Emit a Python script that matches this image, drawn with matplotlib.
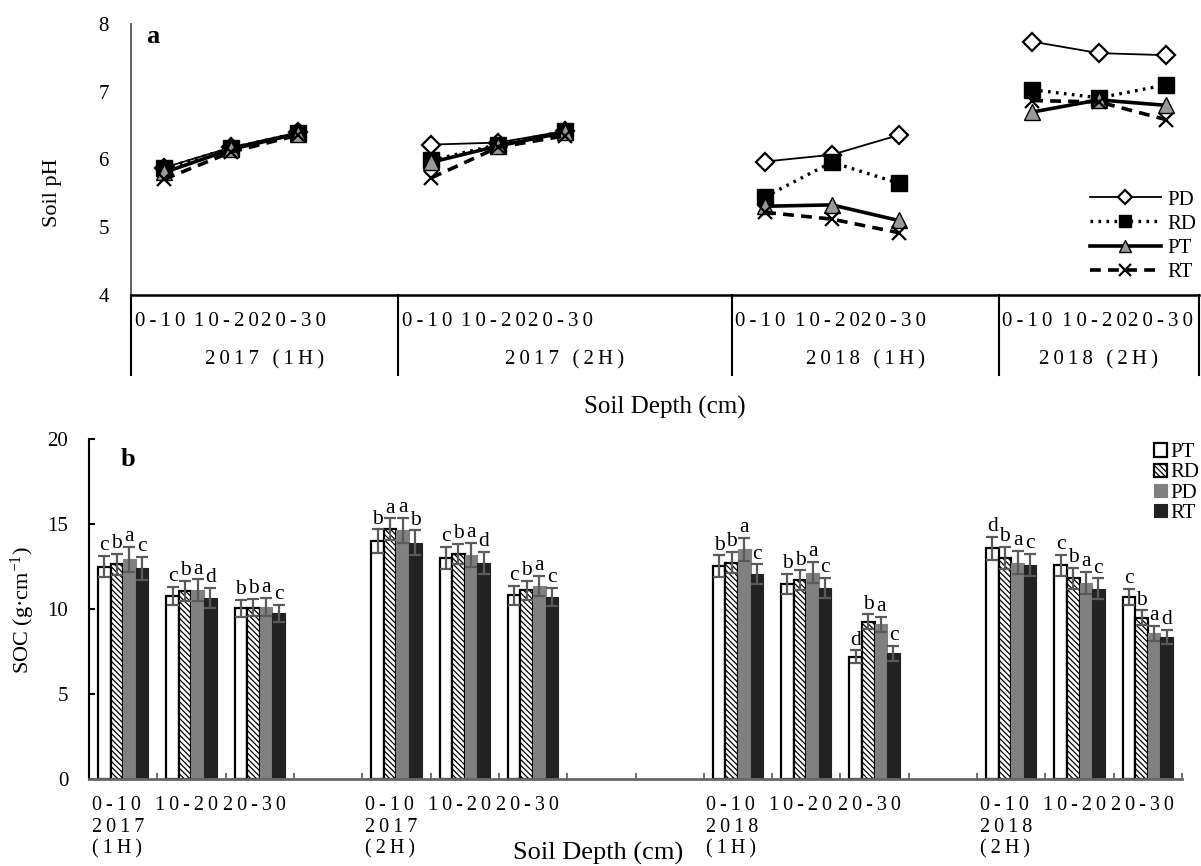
import matplotlib
matplotlib.use('Agg')
import matplotlib.pyplot as plt
import matplotlib.transforms as mtransforms
from matplotlib.lines import Line2D
from matplotlib.patches import Patch
import numpy as np

plt.rcParams['font.family'] = ['Liberation Serif', 'DejaVu Serif']
plt.rcParams['mathtext.fontset'] = 'custom'
plt.rcParams['mathtext.rm'] = 'Liberation Serif'
plt.rcParams['mathtext.it'] = 'Liberation Serif:italic'
plt.rcParams['hatch.linewidth'] = 0.9
plt.rcParams['hatch.color'] = 'black'

# ---------------- data ----------------
depths = ['0-10', '10-20', '20-30']
periods = ['2017 (1H)', '2017 (2H)', '2018 (1H)', '2018 (2H)']
period_year = ['2017', '2017', '2018', '2018']
period_half = ['(1H)', '(2H)', '(1H)', '(2H)']

# soil pH (12 values: period x depth)
ph_PD = [5.88, 6.18, 6.40, 6.22, 6.25, 6.42, 5.97, 6.07, 6.36, 7.74, 7.57, 7.54]
ph_RD = [5.87, 6.17, 6.39, 5.99, 6.22, 6.42, 5.45, 5.96, 5.65, 7.03, 6.91, 7.10]
ph_PT = [5.81, 6.15, 6.38, 5.96, 6.20, 6.40, 5.31, 5.33, 5.10, 6.70, 6.88, 6.80]
ph_RT = [5.71, 6.11, 6.36, 5.73, 6.18, 6.35, 5.22, 5.12, 4.92, 6.87, 6.85, 6.59]

# SOC (g cm-1)
soc_PT = [12.49, 10.76, 10.04, 14.00, 13.02, 10.80, 12.53, 11.49, 7.20, 13.57, 12.57, 10.71]
soc_RD = [12.63, 11.06, 10.08, 14.69, 13.22, 11.10, 12.73, 11.69, 9.25, 13.02, 11.80, 9.49]
soc_PD = [12.92, 11.10, 10.12, 14.63, 13.18, 11.35, 13.51, 12.14, 9.10, 12.73, 11.55, 8.57]
soc_RT = [12.39, 10.63, 9.76, 13.90, 12.73, 10.70, 12.04, 11.25, 7.39, 12.59, 11.20, 8.35]

err_PT = [0.63, 0.55, 0.50, 0.69, 0.65, 0.55, 0.63, 0.59, 0.37, 0.67, 0.60, 0.49]
err_RD = [0.62, 0.60, 0.50, 0.65, 0.60, 0.55, 0.63, 0.59, 0.43, 0.65, 0.63, 0.43]
err_PD = [0.73, 0.65, 0.55, 0.75, 0.70, 0.60, 0.69, 0.63, 0.45, 0.69, 0.65, 0.43]
err_RT = [0.66, 0.60, 0.50, 0.73, 0.65, 0.55, 0.59, 0.59, 0.43, 0.67, 0.60, 0.41]

let_PT = ['c', 'c', 'b', 'b', 'c', 'c', 'b', 'b', 'd', 'd', 'c', 'c']
let_RD = ['b', 'b', 'b', 'a', 'b', 'b', 'b', 'b', 'b', 'b', 'b', 'b']
let_PD = ['a', 'a', 'a', 'a', 'a', 'a', 'a', 'a', 'a', 'a', 'a', 'a']
let_RT = ['c', 'd', 'c', 'b', 'd', 'c', 'c', 'c', 'c', 'c', 'c', 'd']

# category slots (16 slots incl. blanks); first slot of each period
slot_start = [0, 4, 9, 13]
n_slots = 16
# period group boundaries on the top multilevel axis
group_edges = [-0.5, 3.5, 8.5, 12.5, 15.5]

pos = np.array([s + d for s in slot_start for d in range(3)], dtype=float)

THS = '\u2009'
def spaced(s):
    return THS.join(list(s))

fig = plt.figure(figsize=(12.01, 8.66), dpi=100)

# ================= panel a =================
ax1 = fig.add_axes([131 / 1201, (866 - 295) / 866, 1068 / 1201, 271 / 866])
ax1.set_xlim(-0.5, n_slots - 0.5)
ax1.set_ylim(4, 8)
ax1.set_yticks([4, 5, 6, 7, 8])
ax1.tick_params(axis='y', length=0, pad=16, labelsize=15)
ax1.set_xticks([])
for sp in ['top', 'right']:
    ax1.spines[sp].set_visible(False)
ax1.spines['left'].set_color('#555555')
ax1.spines['left'].set_linewidth(1.3)
ax1.spines['bottom'].set_color('black')
ax1.spines['bottom'].set_linewidth(1.8)

styles = [
    ('PD', ph_PD, dict(color='black', lw=1.3, ls='-', marker='D', ms=9,
                       mfc='white', mec='black', mew=1.6)),
    ('RD', ph_RD, dict(color='black', lw=2.4, ls=(0, (0.8, 1.6)), marker='s', ms=11,
                       mfc='black', mec='black', mew=1.0)),
    ('PT', ph_PT, dict(color='black', lw=2.6, ls='-', marker='^', ms=11,
                       mfc='#999999', mec='black', mew=1.0)),
    ('RT', ph_RT, dict(color='black', lw=2.6, ls=(0, (3.0, 2.0)), marker='x', ms=10,
                       mfc='black', mec='black', mew=1.6)),
]
handles = []
for name, vals, st in styles:
    vals = np.array(vals)
    for g in range(4):
        ax1.plot(pos[3 * g:3 * g + 3], vals[3 * g:3 * g + 3], **st)
    handles.append(Line2D([0], [0], label=name, **st))

leg1 = fig.legend(handles=handles, loc='center left',
                  bbox_to_anchor=(1090 / 1201, (866 - 236) / 866),
                  frameon=False, fontsize=15, handlelength=3.4,
                  handletextpad=0.3, labelspacing=0.22, borderpad=0,
                  borderaxespad=0, markerscale=0.8)

trans1 = mtransforms.blended_transform_factory(ax1.transData, ax1.transAxes)
for e in group_edges:
    ax1.plot([e, e], [0, -80 / 271], transform=trans1, color='black', lw=1.5,
             clip_on=False)
for i, p in enumerate(pos):
    ax1.text(p - 0.07, -27 / 271, spaced(depths[i % 3]), transform=trans1,
             ha='center', va='center', fontsize=15)
for g in range(4):
    c = (group_edges[g] + group_edges[g + 1]) / 2
    ax1.text(c, -65 / 271, spaced(periods[g]), transform=trans1,
             ha='center', va='center', fontsize=15)

ax1.text(0.014, 0.955, 'a', transform=ax1.transAxes, fontsize=19,
         fontweight='bold', ha='left', va='center')
fig.text(52 / 1201, (866 - 193) / 866, 'Soil pH', rotation=90, fontsize=16,
         ha='center', va='center')
fig.text(665 / 1201, (866 - 407) / 866, 'Soil Depth (cm)', fontsize=18,
         ha='center', va='center')

# ================= panel b =================
ax2 = fig.add_axes([89 / 1201, (866 - 779) / 866, 1093 / 1201, 340 / 866])
ax2.set_xlim(-0.5, n_slots - 0.5)
ax2.set_ylim(0, 20)
ax2.set_yticks([0, 5, 10, 15, 20])
ax2.tick_params(axis='y', direction='in', length=4, width=1.5, pad=15,
                labelsize=15)
ax2.set_xticks(np.arange(0.5, n_slots, 1.0))
ax2.set_xticklabels([])
ax2.tick_params(axis='x', direction='in', length=4, width=1.2,
                color='#555555')
for sp in ['top', 'right']:
    ax2.spines[sp].set_visible(False)
ax2.spines['left'].set_color('black')
ax2.spines['left'].set_linewidth(1.5)
ax2.spines['bottom'].set_color('#666666')
ax2.spines['bottom'].set_linewidth(2.0)

bw = 0.184
series = [
    ('PT', soc_PT, err_PT, let_PT, dict(facecolor='white', edgecolor='black', linewidth=1.6)),
    ('RD', soc_RD, err_RD, let_RD, dict(facecolor='white', edgecolor='black', linewidth=1.6,
                                         hatch='\\\\\\\\\\\\')),
    ('PD', soc_PD, err_PD, let_PD, dict(facecolor='#808080', edgecolor='#808080', linewidth=0.8)),
    ('RT', soc_RT, err_RT, let_RT, dict(facecolor='#222222', edgecolor='#222222', linewidth=0.8)),
]
bar_handles = []
for k, (name, vals, errs, lets, st) in enumerate(series):
    xs = pos + (k - 1.5) * bw
    ax2.bar(xs, vals, width=bw, zorder=2, **st)
    ax2.errorbar(xs, vals, yerr=errs, fmt='none', ecolor='#5a5a5a',
                 elinewidth=1.6, capsize=4.5, capthick=1.6, zorder=3)
    for x, v, e, l in zip(xs, vals, errs, lets):
        ax2.annotate(l, (x, v + e), xytext=(0, 0.5), textcoords='offset points',
                     ha='center', va='bottom', fontsize=15.5, zorder=4)
    bar_handles.append(Patch(label=name, **st))

leg2 = fig.legend(handles=bar_handles, loc='center left',
                  bbox_to_anchor=(1154 / 1201, (866 - 483) / 866),
                  frameon=False, fontsize=15, handlelength=0.6,
                  handleheight=0.6, handletextpad=0.2, labelspacing=0.05,
                  borderpad=0, borderaxespad=0)

trans2 = mtransforms.blended_transform_factory(ax2.transData, ax2.transAxes)
for i, p in enumerate(pos):
    d = i % 3
    g = i // 3
    if d == 0:
        txt = spaced(depths[d]) + '\n' + spaced(period_year[g]) + '\n' + spaced(period_half[g])
    else:
        txt = spaced(depths[d])
    ax2.text(p - 0.08, -17 / 340, txt, transform=trans2, ha='center', va='top',
             multialignment='left', fontsize=14.5, linespacing=1.2)

ax2.text(0.029, 0.94, 'b', transform=ax2.transAxes, fontsize=19,
         fontweight='bold', ha='left', va='center')
fig.text(23 / 1201, (866 - 610) / 866, 'SOC (g\u00b7cm$^{-1}$)', rotation=90,
         fontsize=16, ha='center', va='center')
fig.text(598 / 1201, (866 - 853) / 866, 'Soil Depth (cm)', fontsize=19,
         ha='center', va='center')

fig.savefig('out.png', dpi=100)
